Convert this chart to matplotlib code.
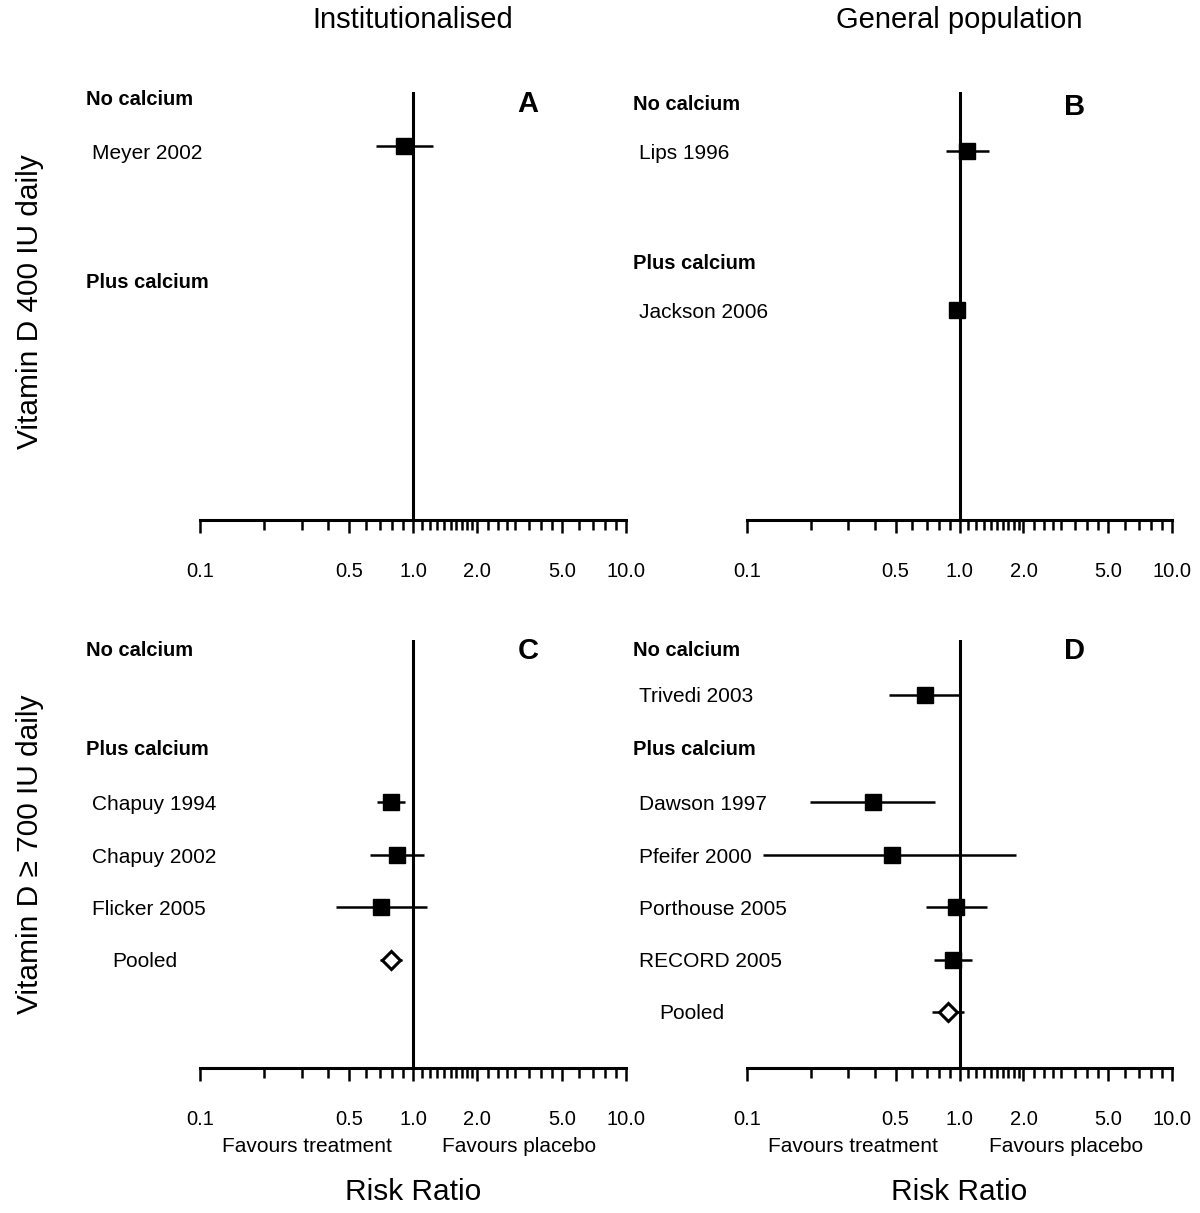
# Forest plots: vitamin D vs fracture risk, 2x2 panels
import numpy as np
import matplotlib.pyplot as plt
from matplotlib.ticker import NullFormatter
from matplotlib.transforms import blended_transform_factory

plt.rcParams['font.family'] = ['Liberation Sans', 'DejaVu Sans']

# ---- data: risk ratio with 95% CI
a_names = ["Meyer 2002"]
a_rr = [0.91]
a_lo = [0.67]
a_hi = [1.24]

b_names = ["Lips 1996", "Jackson 2006"]
b_rr = [1.08, 0.97]
b_lo = [0.86, 0.93]
b_hi = [1.38, 1.01]

c_names = ["Chapuy 1994", "Chapuy 2002", "Flicker 2005"]
c_rr = [0.785, 0.84, 0.705]
c_lo = [0.68, 0.63, 0.435]
c_hi = [0.92, 1.13, 1.16]
c_pooled = [0.785, 0.70, 0.89]   # estimate, lo, hi

d_names = ["Trivedi 2003", "Dawson 1997", "Pfeifer 2000", "Porthouse 2005", "RECORD 2005"]
d_rr = [0.687, 0.39, 0.48, 0.96, 0.935]
d_lo = [0.465, 0.198, 0.119, 0.695, 0.76]
d_hi = [1.0, 0.77, 1.85, 1.34, 1.15]
d_pooled = [0.88, 0.74, 1.05]

headings = ["No calcium", "Plus calcium"]
col_titles = ["Institutionalised", "General population"]
row_titles = ["Vitamin D 400 IU daily", "Vitamin D \u2265 700 IU daily"]

tick_vals = [0.1, 0.5, 1.0, 2.0, 5.0, 10.0]
tick_labels = ["0.1", "0.5", "1.0", "2.0", "5.0", "10.0"]
minor_vals = [0.2, 0.3, 0.4, 0.6, 0.7, 0.8, 0.9,
              1.1, 1.2, 1.3, 1.4, 1.5, 1.6, 1.7, 1.8, 1.9,
              2.25, 2.5, 2.75, 3.0, 3.5, 4.0, 4.5, 6.0, 7.0, 8.0, 9.0]

# ---- layout (pixels of the 1200x1213 canvas)
W, H = 1200, 1213
fig = plt.figure(figsize=(W / 100, H / 100), dpi=100)


def px_axes(left, top, right, bottom):
    return fig.add_axes([left / W, 1 - bottom / H, (right - left) / W, (bottom - top) / H])


def draw_panel(ax, letter, head_rows, names, rr, lo, hi, rows, pooled=None, pooled_row=None,
               bottom_text=False, name_shift=0.04, letter_shift=0.02):
    ax.set_xscale('log')
    ax.set_xlim(0.1, 10)
    ax.set_ylim(8.06, -0.095)
    for s in ['top', 'right', 'left']:
        ax.spines[s].set_visible(False)
    ax.spines['bottom'].set_linewidth(2.2)
    ax.set_yticks([])
    ax.set_xticks(tick_vals, tick_labels)
    ax.set_xticks(minor_vals, minor=True)
    ax.xaxis.set_minor_formatter(NullFormatter())
    ax.tick_params(axis='x', which='major', length=9, width=1.8, pad=21, labelsize=14.5)
    ax.tick_params(axis='x', which='minor', length=7, width=1.8)
    ax.axvline(1.0, color='black', lw=2.2, zorder=2)

    ax.hlines(rows, lo, hi, color='black', lw=1.8, zorder=3)
    ax.plot(rr, rows, 's', ms=11.5, color='black', zorder=4)

    width = ax.get_position().width * W
    tr = blended_transform_factory(ax.transAxes, ax.transData)
    for r, h in zip(head_rows, headings):
        ax.text(-114 / width, r, h, transform=tr, fontsize=14.5, fontweight='bold',
                ha='left', va='center', clip_on=False)
    for r, n in zip(rows, names):
        ax.text(-108 / width, r + name_shift, n, transform=tr, fontsize=15,
                ha='left', va='center', clip_on=False)
    if pooled is not None:
        ax.hlines(pooled_row, pooled[1], pooled[2], color='black', lw=1.8, zorder=3)
        ax.plot(pooled[0], pooled_row, 'D', ms=9.5, mfc='white', mec='black', mew=2.2, zorder=4)
        ax.text(-88 / width, pooled_row + 0.03, "Pooled", transform=tr, fontsize=15,
                ha='left', va='center', clip_on=False)
    ax.text(0.77, head_rows[0] + letter_shift, letter, transform=tr, fontsize=21,
            fontweight='bold', ha='center', va='center')

    if bottom_text:
        trf = blended_transform_factory(ax.transData, fig.transFigure)
        ax.text(10 ** -0.5, 1 - 1146 / H, "Favours treatment", transform=trf,
                fontsize=15, ha='center', va='center')
        ax.text(10 ** 0.5, 1 - 1146 / H, "Favours placebo", transform=trf,
                fontsize=15, ha='center', va='center')
        ax.text(1.0, 1 - 1192 / H, "Risk Ratio", transform=trf,
                fontsize=21.5, ha='center', va='center')


axA = px_axes(200, 92, 626, 520)
axB = px_axes(747, 92, 1172, 520)
axC = px_axes(200, 640, 626, 1068)
axD = px_axes(747, 640, 1172, 1068)

draw_panel(axA, "A", [0.04, 3.54], a_names, a_rr, a_lo, a_hi, [0.93],
           name_shift=0.15, letter_shift=0.1)
draw_panel(axB, "B", [0.15, 3.18], b_names, b_rr, b_lo, b_hi, [1.03, 4.06],
           letter_shift=0.05)
draw_panel(axC, "C", [0.1, 2.0], c_names, c_rr, c_lo, c_hi, [3, 4, 5],
           pooled=c_pooled, pooled_row=6, bottom_text=True)
draw_panel(axD, "D", [0.1, 2.0], d_names, d_rr, d_lo, d_hi, [0.95, 3, 4, 5, 6],
           pooled=d_pooled, pooled_row=7, bottom_text=True)

# column and row titles
for ax, t in zip([axA, axB], col_titles):
    trf = blended_transform_factory(ax.transData, fig.transFigure)
    ax.text(1.0, 1 - 20 / H, t, transform=trf, fontsize=21, ha='center', va='center')
fig.text(30 / W, 1 - 302 / H, row_titles[0], rotation=90, fontsize=21.5, ha='center', va='center')
fig.text(30 / W, 1 - 854 / H, row_titles[1], rotation=90, fontsize=21.5, ha='center', va='center')

fig.savefig("out.png", dpi=100)
